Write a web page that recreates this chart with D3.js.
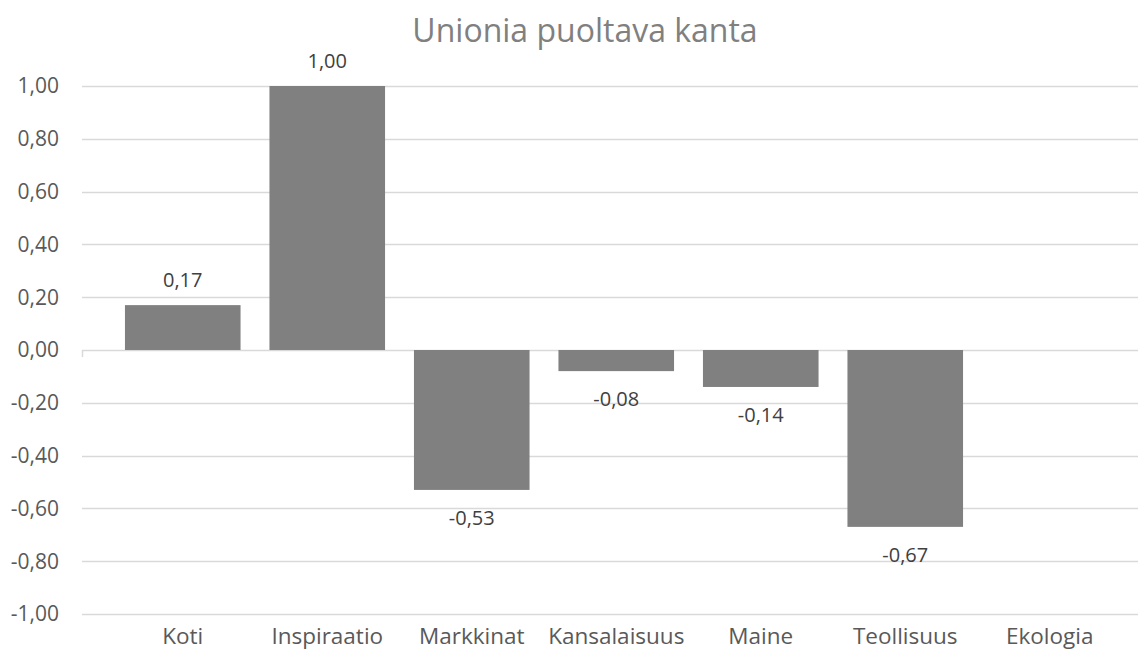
<!DOCTYPE html>
<html>
<head>
<meta charset="utf-8">
<script src="https://cdn.jsdelivr.net/npm/d3@7"></script>
<style>
  body { margin: 0; background: #fff; }
  svg text { font-family: "Open Sans", "Noto Sans", sans-serif; }
</style>
</head>
<body>
<svg id="chart" width="1138" height="651"></svg>
<script>
// chart data
const categories = ["Koti", "Inspiraatio", "Markkinat", "Kansalaisuus", "Maine", "Teollisuus", "Ekologia"];
const values = [0.17, 1.00, -0.53, -0.08, -0.14, -0.67, null];
const yTicks = [1.0, 0.8, 0.6, 0.4, 0.2, 0.0, -0.2, -0.4, -0.6, -0.8, -1.0];
const title = "Unionia puoltava kanta";

const width = 1138, height = 651;
const svg = d3.select("#chart");

const fmt = v => d3.format(".2f")(v).replace(".", ",").replace("−", "-");

const y = d3.scaleLinear().domain([-1, 1]).range([614, 86]);
const x = d3.scaleBand().domain(categories).range([110.5, 1122]).paddingInner(0.2).paddingOuter(0.1);

// gridlines
svg.append("g")
  .selectAll("line")
  .data(yTicks)
  .enter().append("line")
  .attr("x1", 82)
  .attr("x2", width)
  .attr("y1", d => Math.round(y(d)) + 0.5)
  .attr("y2", d => Math.round(y(d)) + 0.5)
  .attr("stroke", "#d9d9d9")
  .attr("stroke-width", 1.5);

// small tick at start of the zero axis
svg.append("line")
  .attr("x1", 82.5).attr("x2", 82.5)
  .attr("y1", y(0)).attr("y2", y(0) + 7)
  .attr("stroke", "#d9d9d9").attr("stroke-width", 1.5);

// y tick labels
svg.append("g")
  .selectAll("text")
  .data(yTicks)
  .enter().append("text")
  .attr("x", 59)
  .attr("y", d => y(d))
  .attr("dy", "0.35em")
  .attr("text-anchor", "end")
  .attr("font-size", 21)
  .attr("fill", "#595959")
  .text(fmt);

const data = categories.map((c, i) => ({ cat: c, value: values[i] })).filter(d => d.value !== null);

// bars
svg.append("g")
  .selectAll("rect")
  .data(data)
  .enter().append("rect")
  .attr("x", d => x(d.cat))
  .attr("width", x.bandwidth())
  .attr("y", d => y(Math.max(0, d.value)))
  .attr("height", d => Math.abs(y(d.value) - y(0)))
  .attr("fill", "#808080");

// data labels
svg.append("g")
  .selectAll("text")
  .data(data)
  .enter().append("text")
  .attr("x", d => x(d.cat) + x.bandwidth() / 2)
  .attr("y", d => d.value >= 0 ? y(d.value) - 25 : y(d.value) + 28)
  .attr("dy", "0.35em")
  .attr("text-anchor", "middle")
  .attr("font-size", 20)
  .attr("fill", "#404040")
  .text(d => fmt(d.value));

// category labels
svg.append("g")
  .selectAll("text")
  .data(categories)
  .enter().append("text")
  .attr("x", d => x(d) + x.bandwidth() / 2)
  .attr("y", 636)
  .attr("dy", "0.35em")
  .attr("text-anchor", "middle")
  .attr("font-size", 22.5)
  .attr("fill", "#595959")
  .text(d => d);

// title
svg.append("text")
  .attr("x", 585)
  .attr("y", 31)
  .attr("dy", "0.35em")
  .attr("text-anchor", "middle")
  .attr("font-size", 32)
  .attr("fill", "#808080")
  .text(title);
</script>
</body>
</html>
